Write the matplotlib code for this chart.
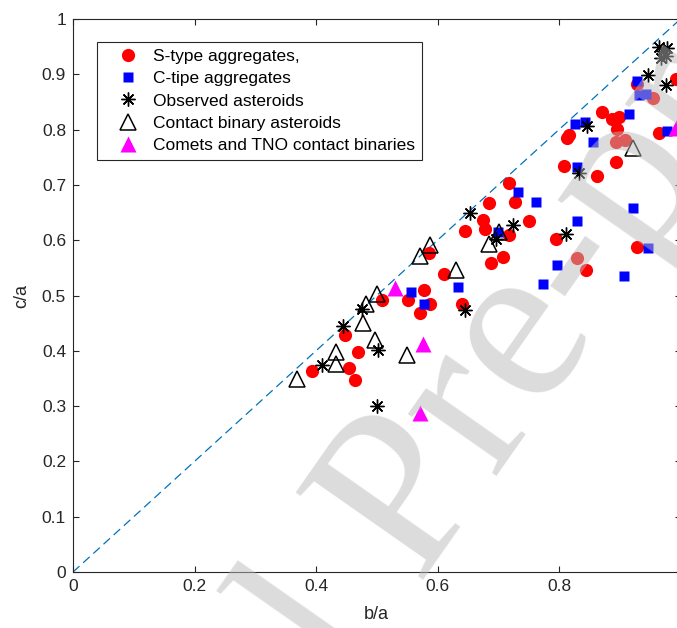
import numpy as np
import matplotlib.pyplot as plt

plt.rcParams['font.family'] = ['Liberation Sans', 'DejaVu Sans']

# S-type aggregates (red circles)
s_ba = [0.394, 0.454, 0.464, 0.469, 0.447, 0.509, 0.552, 0.578, 0.588, 0.571,
        0.586, 0.611, 0.640, 0.646, 0.675, 0.678, 0.685, 0.718, 0.728, 0.717,
        0.750, 0.707, 0.688, 0.795, 0.809, 0.813, 0.816, 0.863, 0.830, 0.844,
        0.928, 0.870, 0.887, 0.898, 0.895, 0.894, 0.908, 0.894, 0.965, 0.955,
        0.993, 0.929]
s_ca = [0.364, 0.368, 0.347, 0.397, 0.429, 0.491, 0.491, 0.510, 0.484, 0.468,
        0.577, 0.538, 0.484, 0.617, 0.637, 0.621, 0.667, 0.704, 0.669, 0.609,
        0.635, 0.569, 0.559, 0.603, 0.734, 0.784, 0.790, 0.716, 0.567, 0.546,
        0.588, 0.831, 0.819, 0.822, 0.801, 0.778, 0.781, 0.742, 0.793, 0.857,
        0.891, 0.882]

# C-type aggregates (blue squares)
c_ba = [0.556, 0.578, 0.633, 0.700, 0.733, 0.762, 0.773, 0.797, 0.830, 0.830,
        0.826, 0.842, 0.856, 0.916, 0.928, 0.931, 0.943, 0.977, 0.921, 0.907,
        0.947]
c_ca = [0.507, 0.484, 0.515, 0.614, 0.688, 0.669, 0.520, 0.556, 0.635, 0.733,
        0.810, 0.814, 0.778, 0.828, 0.888, 0.863, 0.865, 0.797, 0.659, 0.535,
        0.585]

# observed asteroids (asterisks)
obs_ba = [0.410, 0.444, 0.475, 0.502, 0.500, 0.646, 0.654, 0.697, 0.725, 0.811,
          0.833, 0.846, 0.947, 0.976, 0.972, 0.965, 0.978, 0.968, 0.976]
obs_ca = [0.374, 0.444, 0.475, 0.401, 0.300, 0.473, 0.649, 0.603, 0.627, 0.611,
          0.721, 0.807, 0.899, 0.880, 0.943, 0.949, 0.948, 0.929, 0.933]

# contact binary asteroids (open triangles)
cb_ba = [0.368, 0.433, 0.433, 0.478, 0.483, 0.500, 0.497, 0.549, 0.571, 0.588,
         0.630, 0.685, 0.702, 0.921]
cb_ca = [0.349, 0.376, 0.397, 0.451, 0.484, 0.502, 0.420, 0.392, 0.571, 0.591,
         0.546, 0.594, 0.614, 0.766]

# comets and TNO contact binaries (magenta triangles)
tno_ba = [0.530, 0.576, 0.571, 0.993]
tno_ca = [0.513, 0.412, 0.287, 0.802]

W, H = 677, 628
fig = plt.figure(figsize=(W / 100, H / 100), dpi=100)
ax = fig.add_axes([73 / W, 56 / H, 607.5 / W, 553 / H])

ax.plot([0, 1], [0, 1], '--', color='#0072BD', lw=0.9, dashes=(7, 4), zorder=1)
ax.plot(s_ba, s_ca, 'o', color='red', ms=9.5, mec='none', label='S-type aggregates,', zorder=2)
ax.plot(c_ba, c_ca, 's', color='blue', ms=7.5, mec='none', label='C-tipe aggregates', zorder=3)
ax.plot(obs_ba, obs_ca, marker=(8, 2, 0), ls='none', color='black', ms=10, mew=1.0,
        label='Observed asteroids', zorder=4)
ax.plot(cb_ba, cb_ca, '^', mfc='none', mec='black', ms=11, mew=1.1,
        label='Contact binary asteroids', zorder=5)
ax.plot(tno_ba, tno_ca, '^', color='magenta', ms=11, mec='none',
        label='Comets and TNO contact binaries', zorder=6)

ax.set_xlim(0, 1)
ax.set_ylim(0, 1)
ax.set_xticks(np.arange(0, 1.01, 0.2))
ax.set_xticklabels(['0', '0.2', '0.4', '0.6', '0.8', ''])
ax.set_yticks(np.arange(0, 1.01, 0.1))
ax.set_yticklabels(['0', '0.1', '0.2', '0.3', '0.4', '0.5', '0.6', '0.7', '0.8', '0.9', '1'])
ax.tick_params(direction='in', length=4.5, width=0.8, top=True, right=True,
               labelsize=12.5, colors='#262626', pad=5)
for s in ax.spines.values():
    s.set_color('#262626')
    s.set_linewidth(0.8)
ax.set_xlabel('b/a', fontsize=13, color='#262626', labelpad=9)
ax.set_ylabel('c/a', fontsize=13, color='#262626', labelpad=8)

leg = ax.legend(loc='upper left', bbox_to_anchor=(0.0395, 0.958), borderaxespad=0,
                fontsize=12.5, fancybox=False, framealpha=1, edgecolor='#262626',
                borderpad=0.4, handlelength=2.76, handletextpad=0.08, labelspacing=0.40,
                numpoints=1)
leg.get_frame().set_linewidth(0.8)
leg.set_zorder(10)

# journal watermark
em = 235.0
ang = np.deg2rad(55)
px, py = 420.0, 586.0
jx = px - 3.194 * em * np.cos(ang)
jy = py + 3.194 * em * np.sin(ang)
fig.text(jx / W, 1 - jy / H, 'Journal Pre-proof', family='Liberation Serif',
         fontsize=em * 0.72, color='#bababa', alpha=0.5, rotation=55,
         rotation_mode='anchor', ha='left', va='baseline', zorder=20)

fig.savefig('out.png', dpi=100)
